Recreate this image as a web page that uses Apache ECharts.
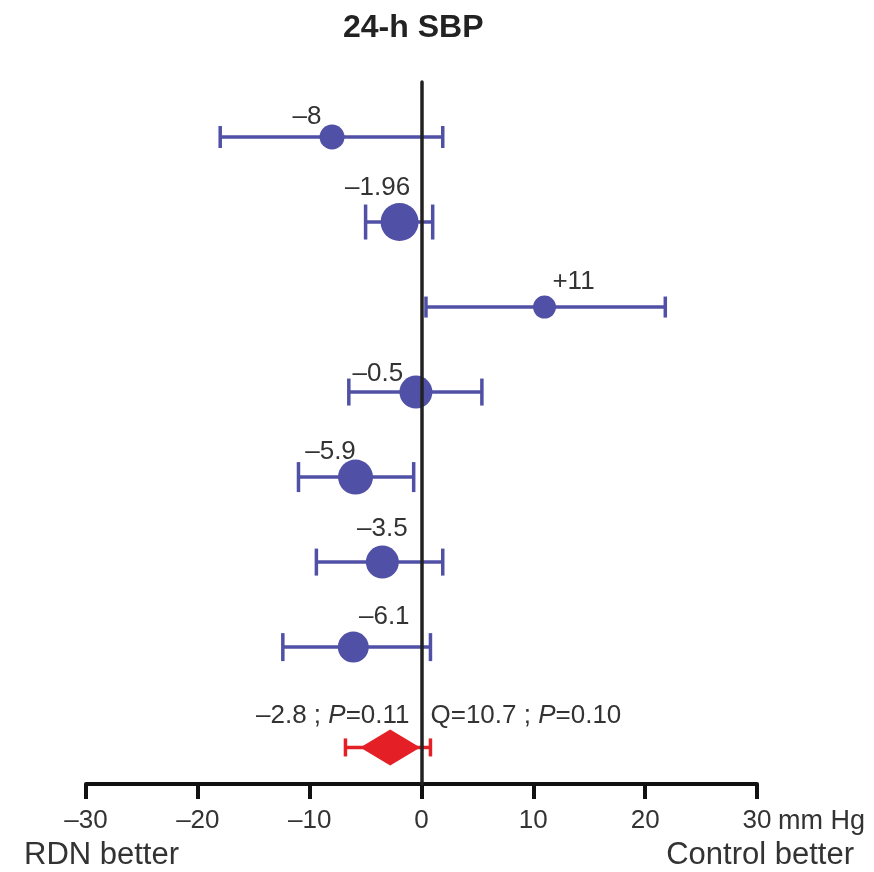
<!DOCTYPE html>
<html>
<head>
<meta charset="utf-8">
<script src="https://cdn.jsdelivr.net/npm/echarts@6/dist/echarts.min.js"></script>
<style>
  html, body { margin: 0; padding: 0; background: #fff; }
  #chart { width: 874px; height: 872px; }
</style>
</head>
<body>
<div id="chart"></div>
<script>
// study estimates (mm Hg), 95% CI and labels, top to bottom
var studyLabels = ['–8', '–1.96', '+11', '–0.5', '–5.9', '–3.5', '–6.1'];
var estimates = [-8, -1.96, 11, -0.5, -5.9, -3.5, -6.1];
var ciLow = [-18.0, -5.0, 0.4, -6.5, -11.0, -9.4, -12.4];
var ciHigh = [1.9, 1.0, 21.8, 5.4, -0.7, 1.9, 0.8];
var rows = [0, 1, 2, 3, 4, 5, 6];

// pooled effect
var pooledEst = -2.8;
var pooledLow = -6.8;
var pooledHigh = 0.8;
var pooledRow = 7.18;
var pooledP = '0.11';
var heteroQ = '10.7';
var heteroP = '0.10';

// marker look (roughly study weight)
var markerSizes = [25, 38, 23, 33, 35, 33, 31];
var capSizes = [22, 35, 21, 27, 30, 27, 28];
var labelOffsets = [[-25, -20], [-22, -34], [29, -25], [-38, -18], [-25, -25], [0, -33], [31, -30]];

var blue = '#5050a6';
var red = '#e41f26';
var textCol = '#333';
var fontFam = 'Liberation Sans, Arial, sans-serif';

var myChart = echarts.init(document.getElementById('chart'));

function errorBar(color, caps) {
    return function (params, api) {
        var lo = api.coord([api.value(0), api.value(2)]);
        var hi = api.coord([api.value(1), api.value(2)]);
        var h = caps[params.dataIndex] / 2;
        var st = { stroke: color, lineWidth: 3.5 };
        return {
            type: 'group',
            children: [
                { type: 'line', shape: { x1: lo[0], y1: lo[1], x2: hi[0], y2: hi[1] }, style: st },
                { type: 'line', shape: { x1: lo[0], y1: lo[1] - h, x2: lo[0], y2: lo[1] + h }, style: st },
                { type: 'line', shape: { x1: hi[0], y1: hi[1] - h, x2: hi[0], y2: hi[1] + h }, style: st }
            ]
        };
    };
}

var studyBars = rows.map(function (r, i) { return [ciLow[i], ciHigh[i], r]; });
var studyPoints = rows.map(function (r, i) {
    return {
        value: [estimates[i], r],
        symbolSize: markerSizes[i],
        label: {
            show: true,
            position: 'inside',
            offset: labelOffsets[i],
            formatter: studyLabels[i]
        }
    };
});

var option = {
    animation: false,
    title: {
        text: '24-h SBP',
        left: 338,
        top: 7,
        textStyle: { fontSize: 32, fontWeight: 'bold', color: '#222', fontFamily: fontFam }
    },
    grid: { left: 86, right: 117, top: 82, bottom: 88, containLabel: false },
    xAxis: {
        type: 'value',
        min: -30,
        max: 30,
        interval: 10,
        axisLine: { onZero: false, lineStyle: { color: '#111', width: 4 } },
        axisTick: { length: 15, lineStyle: { color: '#111', width: 4 } },
        splitLine: { show: false },
        axisLabel: {
            margin: 24,
            fontSize: 26,
            color: textCol,
            fontFamily: fontFam,
            formatter: function (v) { return v < 0 ? '–' + Math.abs(v) : String(v); }
        },
        name: 'mm Hg',
        nameLocation: 'end',
        nameGap: 21,
        nameTextStyle: { fontSize: 27, color: textCol, fontFamily: fontFam, verticalAlign: 'top', padding: [24, 0, 0, 0] }
    },
    yAxis: {
        type: 'value',
        inverse: true,
        min: -0.647,
        max: 7.61,
        z: 5,
        axisLine: { show: true, onZero: true, lineStyle: { color: '#222', width: 3.5 } },
        axisTick: { show: false },
        axisLabel: { show: false },
        splitLine: { show: false }
    },
    graphic: [
        { type: 'text', left: 24, top: 840, style: { text: 'RDN better', fontSize: 31, fill: textCol, fontFamily: fontFam } },
        { type: 'text', right: 20, top: 840, style: { text: 'Control better', fontSize: 31, fill: textCol, fontFamily: fontFam } }
    ],
    series: [
        {
            type: 'custom',
            renderItem: errorBar(blue, capSizes),
            data: studyBars,
            z: 2
        },
        {
            type: 'scatter',
            data: studyPoints,
            itemStyle: { color: blue, opacity: 1 },
            label: { color: textCol, fontSize: 26, fontFamily: fontFam },
            z: 3
        },
        {
            type: 'custom',
            renderItem: function (params, api) {
                var lo = api.coord([api.value(0), api.value(2)]);
                var hi = api.coord([api.value(1), api.value(2)]);
                var zero = api.coord([0, api.value(2)]);
                var h = 9;
                var st = { stroke: red, lineWidth: 3.5 };
                var ts = { fontSize: 26, fill: textCol, fontFamily: fontFam, rich: { i: { fontStyle: 'italic', fontSize: 26, fontFamily: fontFam } } };
                return {
                    type: 'group',
                    children: [
                        { type: 'line', shape: { x1: lo[0], y1: lo[1], x2: hi[0], y2: hi[1] }, style: st },
                        { type: 'line', shape: { x1: lo[0], y1: lo[1] - h, x2: lo[0], y2: lo[1] + h }, style: st },
                        { type: 'line', shape: { x1: hi[0], y1: hi[1] - h, x2: hi[0], y2: hi[1] + h }, style: st },
                        {
                            type: 'text', x: zero[0] - 12, y: zero[1] - 32,
                            style: Object.assign({ text: '–' + Math.abs(pooledEst) + ' ; {i|P}=' + pooledP, align: 'right', verticalAlign: 'middle' }, ts)
                        },
                        {
                            type: 'text', x: zero[0] + 9, y: zero[1] - 32,
                            style: Object.assign({ text: 'Q=' + heteroQ + ' ; {i|P}=' + heteroP, align: 'left', verticalAlign: 'middle' }, ts)
                        }
                    ]
                };
            },
            data: [[pooledLow, pooledHigh, pooledRow]],
            z: 2
        },
        {
            type: 'scatter',
            symbol: 'diamond',
            symbolSize: [60, 36],
            itemStyle: { color: red, opacity: 1 },
            data: [[pooledEst, pooledRow]],
            z: 3
        }
    ]
};
myChart.setOption(option);
</script>
</body>
</html>
